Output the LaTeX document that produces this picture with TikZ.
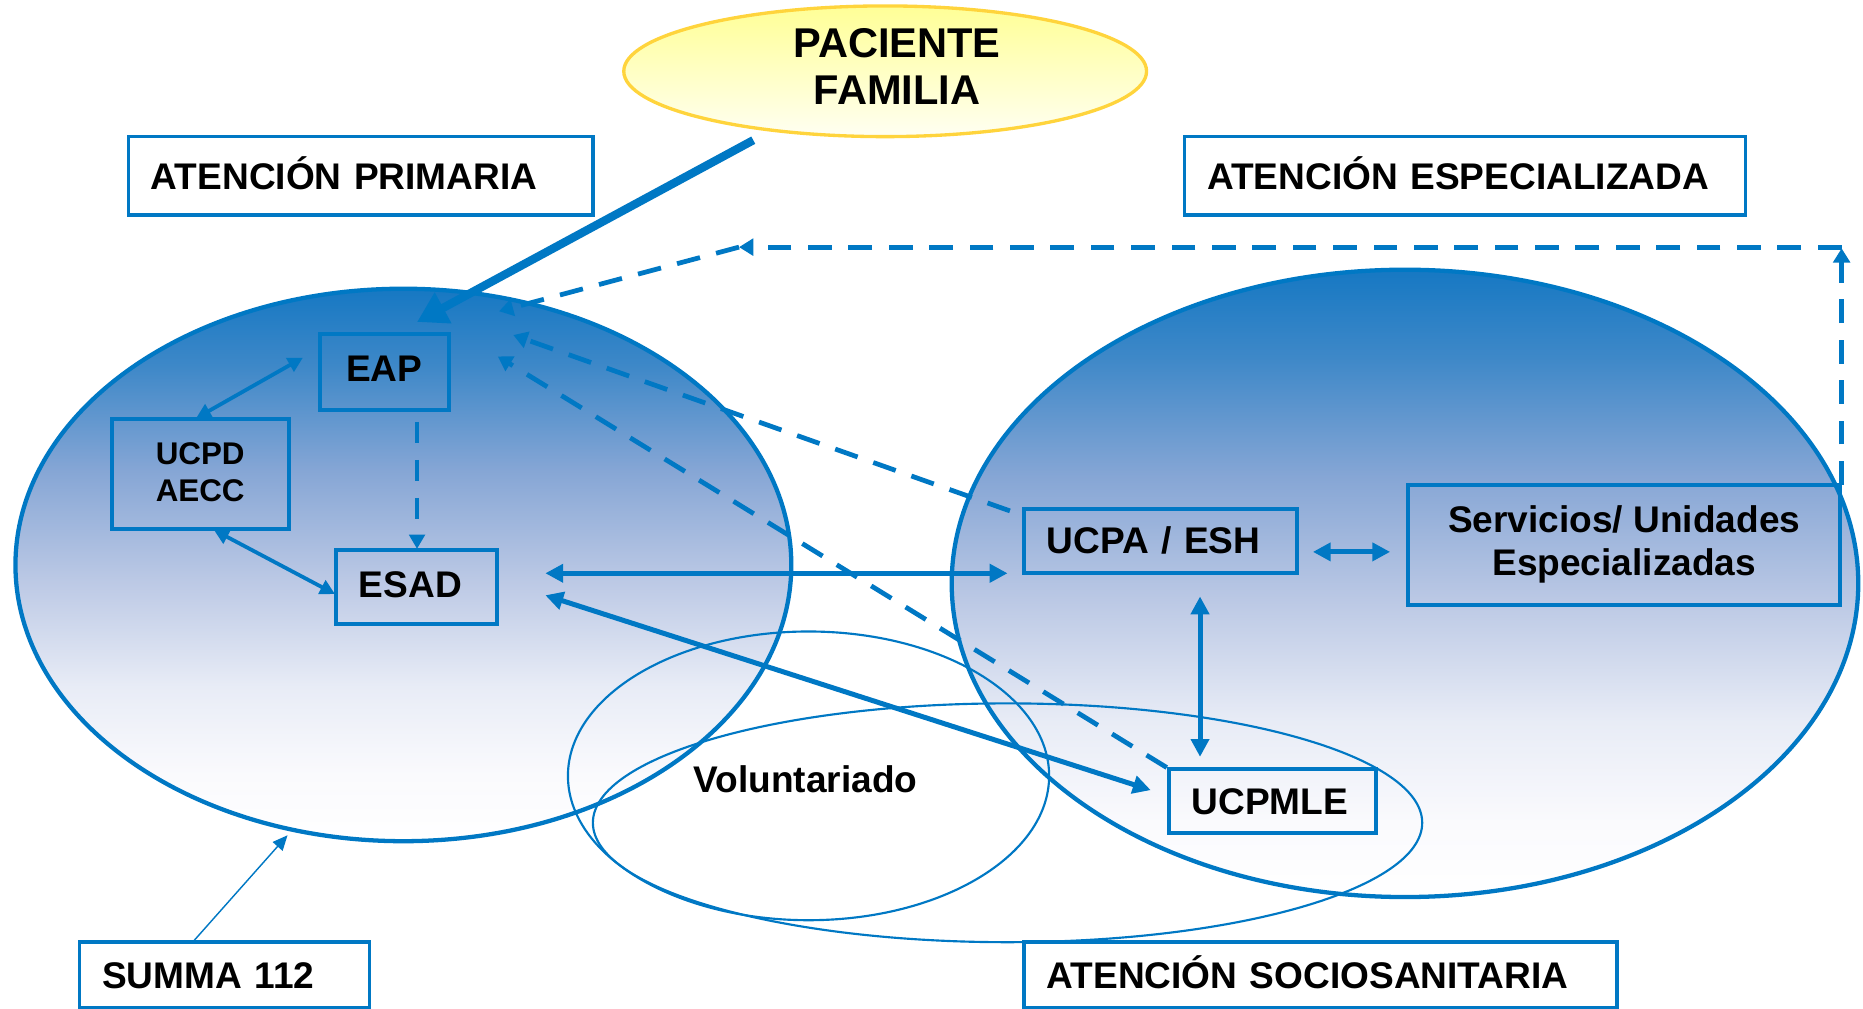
\documentclass[tikz,border=0pt]{standalone}
\usepackage{fontspec}
\setmainfont{Liberation Sans}
\usetikzlibrary{shapes.geometric,arrows.meta}
\definecolor{lblue}{RGB}{0,120,196}
\definecolor{g1}{RGB}{22,120,195}
\definecolor{g2}{RGB}{62,136,200}
\definecolor{g3}{RGB}{134,166,213}
\definecolor{g4}{RGB}{188,201,229}
\definecolor{g5}{RGB}{232,236,246}
\definecolor{g6}{RGB}{250,250,253}
\definecolor{ytop}{RGB}{255,255,150}
\definecolor{ybot}{RGB}{255,255,242}
\definecolor{ygold}{RGB}{255,212,60}
\pgfdeclareverticalshading{bluegrad}{100bp}{color(0bp)=(white); color(25bp)=(white); color(31bp)=(g6); color(39bp)=(g5); color(48.5bp)=(g4); color(58.5bp)=(g3); color(68bp)=(g2); color(75bp)=(g1); color(100bp)=(g1)}
\begin{document}
\begin{tikzpicture}[x=0.5pt,y=-0.5pt,
  fsA/.style={font=\fontsize{15.6}{18}\selectfont\bfseries},
  capht/.style={text height=11.2pt, text depth=0pt},
  box/.style={draw=lblue, line width=1.7pt, rectangle, inner ysep=0pt, inner xsep=9.5pt, fsA},
  topbox/.style={box, fill=white, line width=1.5pt, capht, align=left},
  bigell/.style={ellipse, draw=lblue, line width=1.8pt, shade, shading=bluegrad, inner sep=0pt},
  thinell/.style={ellipse, draw=lblue, line width=0.9pt, inner sep=0pt},
  dbl/.style={draw=lblue, line width=2.1pt, {Triangle[length=7.5pt,width=7.5pt]}-{Triangle[length=7.5pt,width=7.5pt]}},
  dbls/.style={draw=lblue, line width=1.6pt, {Triangle[length=6.3pt,width=6.3pt]}-{Triangle[length=6.3pt,width=6.3pt]}},
  dsh/.style={draw=lblue, line width=2pt, dash pattern=on 10pt off 7pt, -{Triangle[length=6pt,width=7pt]}},
  dshs/.style={draw=lblue, line width=1.6pt, dash pattern=on 9pt off 7pt, -{Triangle[length=6pt,width=6.5pt]}},
  bigarr/.style={draw=lblue, line width=3.5pt, -{Triangle[length=12.5pt,width=14pt]}},
  thinarr/.style={draw=lblue, line width=0.6pt, -{Triangle[length=6.3pt,width=5.5pt]}}
]
\fill[white] (0,0) rectangle (1568,849);
\useasboundingbox (0,0) rectangle (1568,849);

% patient ellipse
\node[ellipse, draw=ygold, line width=1.4pt, top color=ytop, bottom color=ybot, minimum width=220pt, minimum height=55pt, inner sep=0pt] (pacE) at (745,60) {};
\node[font=\fontsize{17.5}{20}\selectfont\bfseries, align=center, inner sep=0pt] (pacT) at (755,56) {PACIENTE\\FAMILIA};

% big ellipses
\node[bigell, minimum width=326.5pt, minimum height=232.5pt] (lell) at (339.5,475.5) {};
\node[bigell, minimum width=381.5pt, minimum height=264pt] (rell) at (1182.5,491) {};

% thin ellipses
\node[thinell, minimum width=202.5pt, minimum height=121.5pt] (vell) at (680.5,653) {};
\node[thinell, minimum width=349pt, minimum height=100.5pt] (sell) at (848,692.5) {};

% title boxes
\node[topbox, text width=176.5pt, minimum height=33pt] (ap) at (303.5,148) {ATENCIÓN PRIMARIA};
\node[topbox, text width=217pt, minimum height=33pt] (ae) at (1233,148) {ATENCIÓN ESPECIALIZADA};
\node[topbox, text width=103pt, minimum height=27.5pt] (summa) at (189,820.5) {SUMMA 112};
\node[topbox, text width=230.5pt, minimum height=27.5pt] (as) at (1111.5,820.5) {ATENCIÓN SOCIOSANITARIA};

% inner boxes
\node[box, capht, minimum width=54.5pt, minimum height=32pt] (eap) at (323.5,313) {\raisebox{1.5pt}{EAP}};
\node[box, minimum width=74.5pt, minimum height=46pt, align=center, font=\fontsize{13.2}{15.5}\selectfont\bfseries] (ucpd) at (168.5,399) {\raisebox{1.5pt}{UCPD}\\\raisebox{1.5pt}{AECC}};
\node[box, capht, text width=48.5pt, align=left, minimum height=31pt] (esad) at (350.5,494) {\raisebox{1.2pt}{ESAD}};
\node[box, capht, text width=96pt, align=left, minimum height=27pt] (ucpa) at (977,455) {UCPA / ESH};
\node[box, minimum width=182pt, minimum height=50.5pt, align=center] (serv) at (1367,458.5) {Servicios/ Unidades\\Especializadas};
\node[box, capht, text width=68pt, align=left, minimum height=27pt] (ucpmle) at (1071,674) {UCPMLE};
\node[fsA, inner sep=0pt] (vol) at (678,656) {Voluntariado};

% connector end points
\coordinate (p1) at (634,118);   \coordinate (p2) at (351,271);
\coordinate (e1) at (255,301);   \coordinate (u1) at (165,352);
\coordinate (u2) at (180,446);   \coordinate (s1) at (282,500);
\coordinate (e2) at (351,355);   \coordinate (s2) at (351,462);
\coordinate (s3) at (459,482.5); \coordinate (c1) at (848,482.5);
\coordinate (s4) at (459,501);   \coordinate (m1) at (968.5,665);
\coordinate (c2) at (1105,464.5);\coordinate (v1) at (1170,464.5);
\coordinate (c3) at (1010,502);  \coordinate (m2) at (1010,637);
\coordinate (c4) at (850,430);   \coordinate (e3) at (432,282);
\coordinate (m3) at (982,646);   \coordinate (e4) at (419,300);
\coordinate (v2) at (1550,408);  \coordinate (k1) at (1550,209);
\coordinate (k2) at (1550,208);  \coordinate (k3) at (622,208);
\coordinate (e5) at (420,262);
\coordinate (q1) at (163,792);   \coordinate (q2) at (242,703);

% connectors
\draw[dbls] (e1) -- (u1);
\draw[dbls] (u2) -- (s1);
\draw[dshs] (e2) -- (s2);
\draw[dbl] (s3) -- (c1);
\draw[dbl] (s4) -- (m1);
\draw[dbl] (c2) -- (v1);
\draw[dbl] (c3) -- (m2);
\draw[dsh] (c4) -- (e3);
\draw[dsh] (m3) -- (e4);
\draw[dsh] (v2) -- (k1);
\draw[dsh] (k2) -- (k3);
\draw[dsh] (k3) -- (e5);
\draw[bigarr] (p1) -- (p2);
\draw[thinarr] (q1) -- (q2);
\end{tikzpicture}
\end{document}
